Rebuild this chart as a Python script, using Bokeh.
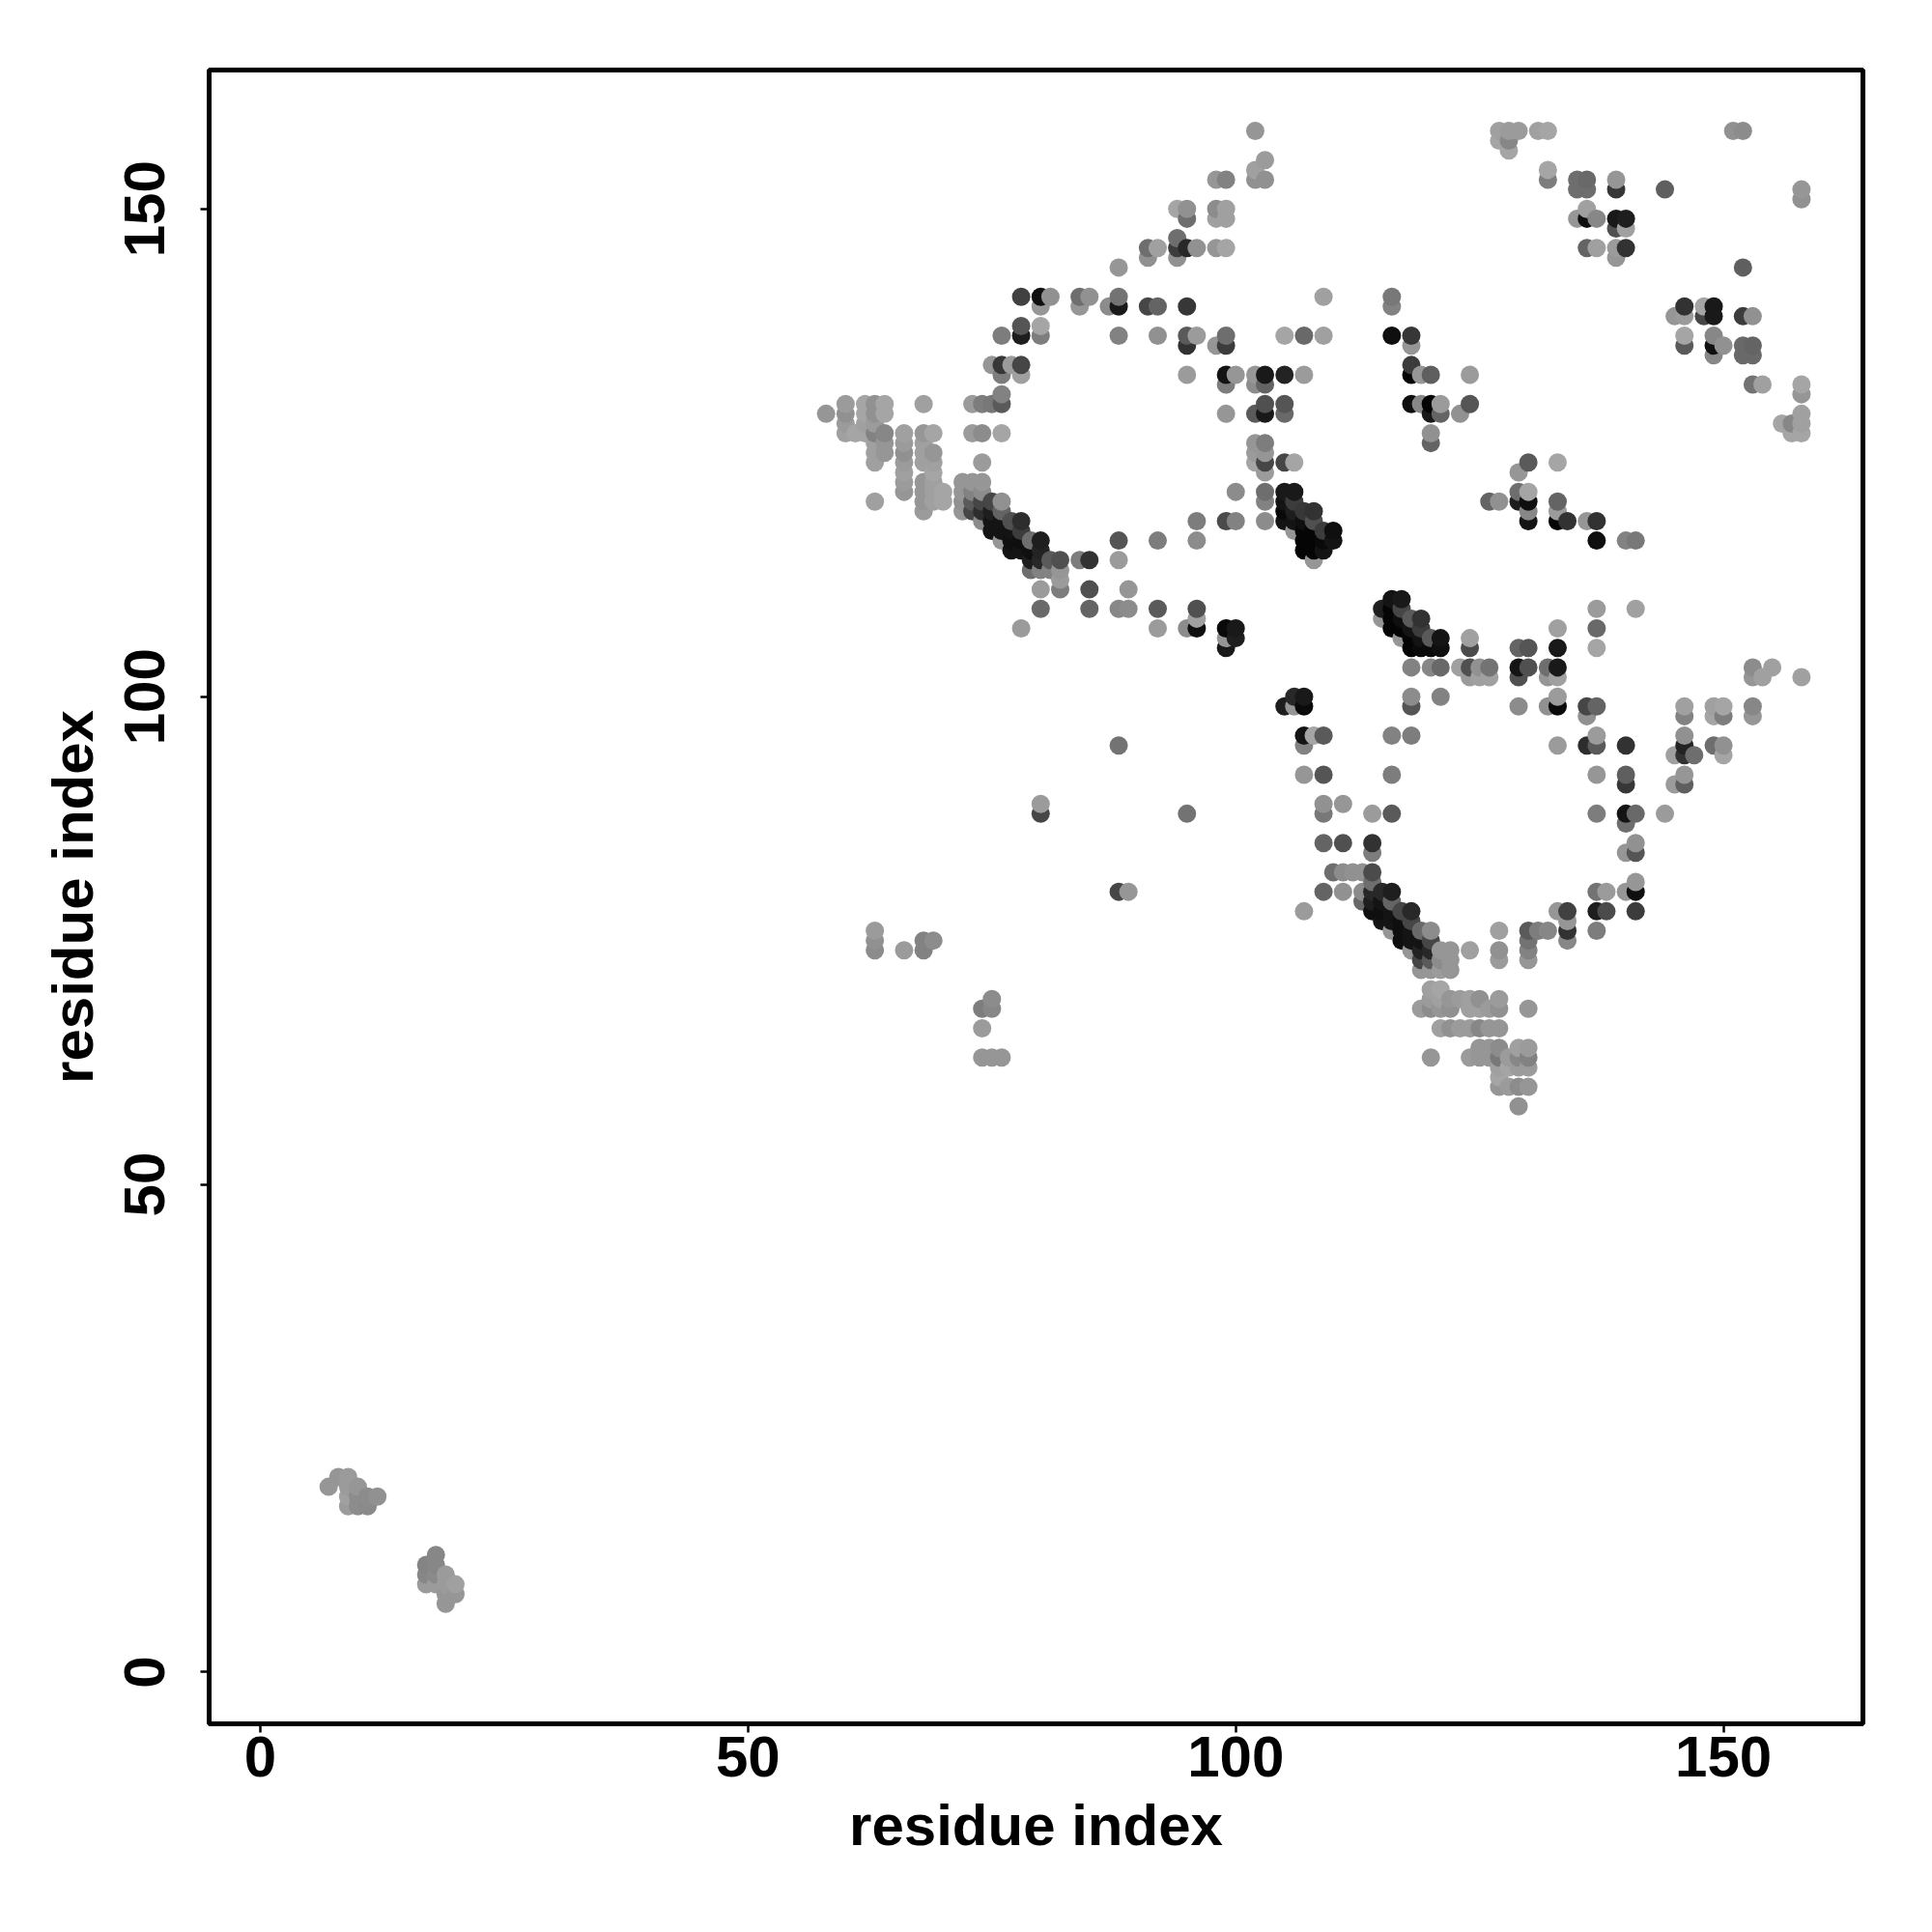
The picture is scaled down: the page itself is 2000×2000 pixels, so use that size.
from bokeh.plotting import figure
from bokeh.models import ColumnDataSource, FixedTicker, Range1d
from bokeh.palettes import gray
from bokeh.transform import linear_cmap
from bokeh.embed import file_html
from bokeh.resources import INLINE

# (residue i, residue j, shade 0=black .. 255=white)
low_clusters = [
    (7,19,150),(8,20,150),(9,20,155),(9,19,155),(9,18,160),(9,17,155),(10,19,150),(10,18,140),(10,17,140),
    (11,18,140),(11,17,138),(12,18,145),
    (17,11,132),(17,10,135),(17,9,155),(18,12,135),(18,11,135),(18,10,138),(18,9,155),
    (19,10,155),(19,9,155),(19,8,150),(19,7,150),(20,9,160),(20,8,150),
]
left_mid = [
    (63,76,155),(63,75,145),(63,74,140),(66,74,155),(68,75,130),(68,74,130),(69,75,140),
    (75,69,140),(74,68,125),(75,68,135),(74,66,155),(74,63,150),(75,63,150),(76,63,150),
    (80,89,155),(80,88,70),(88,95,115),(95,88,115),(88,80,70),(89,80,150),
]
top_left = [
    (102,158,150),(103,155,155),(102,154,160),(102,153,145),(103,153,145),(98,153,150),(99,153,130),
    (94,150,165),(95,150,145),(98,150,140),(99,150,160),(95,149,110),(98,149,160),(99,149,160),
    (94,147,110),(91,146,110),(92,146,160),(94,146,60),(95,146,40),(96,146,145),(98,146,150),(99,146,165),
    (91,145,145),(94,145,145),(88,144,150),
    (78,141,65),(80,141,15),(81,141,145),(84,141,110),(85,141,145),(88,141,115),(109,141,160),
    (80,140,150),(84,140,150),(87,140,140),(88,140,25),(91,140,70),(92,140,100),(95,140,55),
    (78,138,85),(80,138,165),(76,137,125),(78,137,30),(80,137,125),(88,137,130),(92,137,145),(95,137,90),
    (96,137,155),(99,137,110),(105,137,165),(107,137,105),(109,137,160),(95,136,50),(98,136,150),(99,136,60),
    (75,134,150),(76,134,55),(77,134,155),(78,134,70),(76,133,125),(78,133,160),(95,133,155),(99,133,20),
    (100,133,150),(102,133,150),(103,133,25),(105,133,35),(107,133,155),(99,132,125),(102,132,140),(103,132,100),
]
left_wing = [
    (76,131,130),(73,130,155),(74,130,125),(75,130,120),(76,130,90),(60,130,155),(62,130,165),(63,130,145),
    (64,130,165),(68,130,160),(103,130,80),(105,130,85),(58,129,150),(60,129,145),(62,129,165),(63,129,145),
    (64,129,165),(99,129,150),(102,129,90),(103,129,25),(105,129,105),(60,128,155),(62,128,160),(63,128,155),
    (60,127,160),(61,127,165),(62,127,165),(63,127,130),(64,127,135),(66,127,160),(68,127,150),(69,127,165),
    (73,127,155),(74,127,140),(76,127,165),(63,126,160),(64,126,150),(66,126,155),(68,126,160),(102,126,150),
    (103,126,125),(63,125,160),(64,125,150),(66,125,145),(68,125,160),(69,125,150),(102,125,155),(103,125,150),
    (63,124,160),(66,124,155),(68,124,160),(69,124,160),(74,124,155),(102,124,165),(103,124,70),(105,124,70),
    (106,124,165),(66,123,160),(69,123,165),(103,123,155),(66,122,155),(68,122,150),(69,122,160),(72,122,150),
    (73,122,150),(74,122,150),
]
helix_a = [
    (66,121,150),(68,121,150),(69,121,160),(70,121,165),(72,121,150),(73,121,130),(74,121,140),(100,121,140),
    (103,121,110),(105,121,25),(106,121,25),(63,120,160),(68,120,150),(69,120,160),(70,120,165),(72,120,145),
    (73,120,90),(74,120,70),(75,120,70),(76,120,145),(103,120,130),(105,120,20),(106,120,60),(68,119,155),
    (72,119,150),(73,119,70),(74,119,45),(75,119,30),(76,119,100),(105,119,10),(106,119,30),(107,119,55),
    (108,119,50),(74,118,140),(75,118,20),(76,118,20),(77,118,80),(78,118,45),(96,118,125),(99,118,75),
    (100,118,130),(103,118,140),(105,118,20),(106,118,20),(107,118,15),(108,118,80),(75,117,20),(76,117,20),
    (77,117,20),(78,117,60),(106,117,150),(107,117,5),(108,117,5),(109,117,60),(110,117,15),(76,116,150),
    (77,116,15),(78,116,15),(79,116,110),(80,116,30),(88,116,85),(92,116,125),(96,116,140),(107,116,5),
    (108,116,5),(109,116,10),(110,116,20),(77,115,20),(78,115,20),(79,115,15),(80,115,35),(107,115,5),
    (108,115,5),(109,115,20),(108,114,150),(79,114,30),(80,114,40),(81,114,90),(82,114,80),(84,114,125),
    (85,114,50),(88,114,155),(79,113,110),(80,113,130),(81,113,130),(82,113,150),(82,112,155),(80,111,155),
    (82,111,125),(85,111,80),(89,111,150),(80,109,105),(85,109,100),(88,109,135),(89,109,140),(92,109,90),
    (96,109,80),(96,108,160),(78,107,155),(92,107,155),(95,107,140),(96,107,15),(99,107,10),(100,107,25),
    (99,106,150),(100,106,30),(99,105,25),(105,99,30),(106,100,40),(107,100,25),(106,99,150),(107,99,10),
    (107,96,20),(108,96,165),(109,96,90),(107,95,130),(107,92,150),(109,92,85),(109,89,145),(109,88,120),
    (109,85,100),(109,80,100),(107,78,155),
]
top_right = [
    (127,158,160),(128,158,155),(129,158,155),(131,158,160),(132,158,165),(151,158,145),(152,158,140),
    (127,157,165),(128,157,135),(128,156,165),(132,154,165),(132,153,125),(135,153,110),(136,153,105),
    (139,153,150),(135,152,110),(136,152,110),(139,152,55),(144,152,95),(158,152,150),(158,151,145),
    (136,150,160),(135,149,150),(136,149,15),(137,149,135),(139,149,25),(140,149,30),(139,148,80),(140,148,160),
    (136,146,100),(137,146,160),(139,146,155),(140,146,50),(139,145,150),(152,144,95),
    (116,141,120),(116,140,130),(146,140,50),(148,140,165),(149,140,25),(145,139,150),(146,139,155),(148,139,70),
    (149,139,25),(152,139,60),(153,139,145),(116,137,15),(118,137,55),(146,137,165),(149,137,135),(118,136,150),
    (146,136,90),(149,136,15),(150,136,145),(152,136,105),(153,136,100),(149,135,135),(152,135,105),(153,135,105),
    (118,134,60),(118,133,5),(119,133,150),(120,133,95),(124,133,155),(153,132,115),(154,132,160),(158,132,165),
    (158,131,150),(118,130,15),(119,130,135),(120,130,5),(121,130,155),(124,130,85),(120,129,25),(121,129,100),
    (123,129,145),(158,129,160),(156,128,165),(157,128,135),(158,128,160),(120,127,145),(157,127,165),(158,127,165),
    (120,126,100),(130,124,90),(133,124,165),(129,123,150),(129,121,110),(130,121,165),(126,120,100),(127,120,145),
    (129,120,30),(130,120,15),(133,120,100),(130,119,135),(133,119,155),(130,118,20),(133,118,5),(134,118,50),
    (136,118,150),(137,118,50),(137,116,15),(140,116,130),(141,116,120),
]
helix_b = [
    (115,109,30),(116,110,20),(117,110,25),(116,109,5),(117,109,70),(115,108,150),(116,108,5),(117,108,15),
    (118,108,90),(119,108,50),(116,107,5),(117,107,5),(118,107,20),(119,107,60),(117,106,150),(118,106,5),
    (119,106,20),(120,106,90),(121,106,20),(118,105,5),(119,105,10),(120,105,10),(121,105,15),
    (137,109,155),(141,109,160),(133,107,160),(137,107,105),(124,106,160),(124,105,75),(129,105,100),(130,105,85),
    (133,105,25),(137,105,165),(118,103,130),(120,103,135),(121,103,105),(123,103,160),(124,103,80),(125,103,145),
    (126,103,115),(129,103,20),(130,103,80),(132,103,110),(133,103,25),(124,102,155),(125,102,160),(126,102,160),
    (129,102,80),(132,102,150),(133,102,160),(153,103,140),(155,103,160),(153,102,150),(154,102,160),(158,102,160),
    (118,100,140),(121,100,130),(133,100,155),(118,99,85),(129,99,140),(132,99,145),(133,99,10),(136,99,70),
    (137,99,100),(146,99,160),(149,99,160),(150,99,165),(153,99,135),(136,98,145),(146,98,130),(149,98,165),
    (150,98,125),(153,98,150),(116,96,130),(118,96,125),(137,96,155),(146,96,145),(149,95,110),(150,95,145),
    (133,95,155),(136,95,45),(137,95,90),(140,95,50),(146,95,35),(145,94,160),(146,94,50),(147,94,110),(150,94,165),
]
lower_right = [
    (116,92,125),(137,92,150),(140,92,95),(146,92,150),(140,91,55),(145,91,155),(146,91,95),
    (111,89,150),(114,88,155),(116,88,90),(137,88,125),(140,88,20),(141,88,105),(144,88,155),(140,87,110),
    (111,85,80),(114,85,50),(141,85,145),(114,84,125),(140,84,150),(141,84,85),
    (110,82,110),(111,82,140),(112,82,145),(113,82,145),(114,82,75),(114,81,110),(141,81,150),
    (111,80,145),(113,80,140),(114,80,40),(115,80,40),(116,80,30),(137,80,115),(138,80,155),(140,80,150),(141,80,15),
    (113,79,105),(114,79,30),(115,79,20),(116,79,100),(114,78,15),(115,78,15),(116,78,20),(117,78,70),(118,78,40),
    (133,78,150),(134,78,65),(137,78,30),(138,78,75),(141,78,60),(115,77,20),(116,77,20),(117,77,15),(118,77,70),
    (134,77,150),(116,76,150),(117,76,15),(118,76,20),(119,76,105),(120,76,140),(127,76,160),(130,76,90),(131,76,125),
    (132,76,135),(134,76,50),(137,76,125),(117,75,15),(118,75,20),(119,75,20),(120,75,70),(130,75,115),(134,75,135),
    (118,74,150),(119,74,35),(120,74,40),(121,74,150),(122,74,150),(124,74,160),(127,74,145),(130,74,130),
    (119,73,70),(120,73,90),(121,73,140),(122,73,150),(127,73,155),(130,73,150),(119,72,150),(120,72,150),
    (121,72,155),(122,72,150),
]
bottom_fan = [
    (120,70,160),(121,70,165),(120,69,155),(121,69,160),(122,69,150),(123,69,155),(124,69,160),(125,69,145),
    (127,69,155),(119,68,155),(120,68,140),(121,68,150),(122,68,145),(124,68,160),(125,68,160),(126,68,155),
    (127,68,145),(130,68,150),(121,66,160),(122,66,145),(123,66,155),(124,66,155),(125,66,135),(126,66,150),
    (127,66,150),(125,64,150),(126,64,150),(127,64,140),(129,64,160),(130,64,155),(120,63,150),(124,63,155),
    (125,63,150),(126,63,150),(127,63,120),(128,63,155),(129,63,135),(130,63,130),(127,62,160),(128,62,165),
    (129,62,155),(130,62,155),(127,61,165),(127,60,150),(128,60,155),(129,60,140),(130,60,150),(129,58,145),
]
tick_values = [0, 50, 100, 150]
axis_title = "residue index"

contacts = sorted(low_clusters + left_mid + top_left + left_wing + helix_a + top_right
                  + helix_b + lower_right + bottom_fan, key=lambda c: (c[0], c[1]))
src = ColumnDataSource(dict(x=[c[0] for c in contacts], y=[c[1] for c in contacts], g=[c[2] for c in contacts]))

p = figure(width=1984, height=1984, output_backend="svg", toolbar_location=None,
           x_range=Range1d(-5.25, 164.3), y_range=Range1d(-5.30, 164.24),
           min_border_left=216, min_border_right=56, min_border_top=72, min_border_bottom=200,
           background_fill_color="white", border_fill_color="white")
p.scatter("x", "y", source=src, size=19, line_color=None,
          fill_color=linear_cmap("g", gray(256), 0, 255))
p.grid.visible = False
p.outline_line_color = "black"
p.outline_line_width = 5
for ax in (p.xaxis[0], p.yaxis[0]):
    ax.ticker = FixedTicker(ticks=tick_values)
    ax.axis_label = axis_title
    ax.axis_line_color = None
    ax.major_tick_line_color = "black"
    ax.major_tick_line_width = 2.5
    ax.major_tick_out = 9
    ax.major_tick_in = 0
    ax.minor_tick_line_color = None
    ax.major_label_text_font = "Liberation Sans"
    ax.major_label_text_font_style = "bold"
    ax.major_label_text_font_size = "60px"
    ax.major_label_text_color = "black"
    ax.axis_label_text_font = "Liberation Sans"
    ax.axis_label_text_font_style = "bold"
    ax.axis_label_text_font_size = "60px"
    ax.axis_label_text_color = "black"
p.yaxis[0].major_label_orientation = "vertical"
p.xaxis[0].major_label_standoff = 4
p.yaxis[0].major_label_standoff = 37
p.xaxis[0].axis_label_standoff = 14
p.yaxis[0].axis_label_standoff = 18

open("out.html", "w").write(file_html(p, INLINE))
